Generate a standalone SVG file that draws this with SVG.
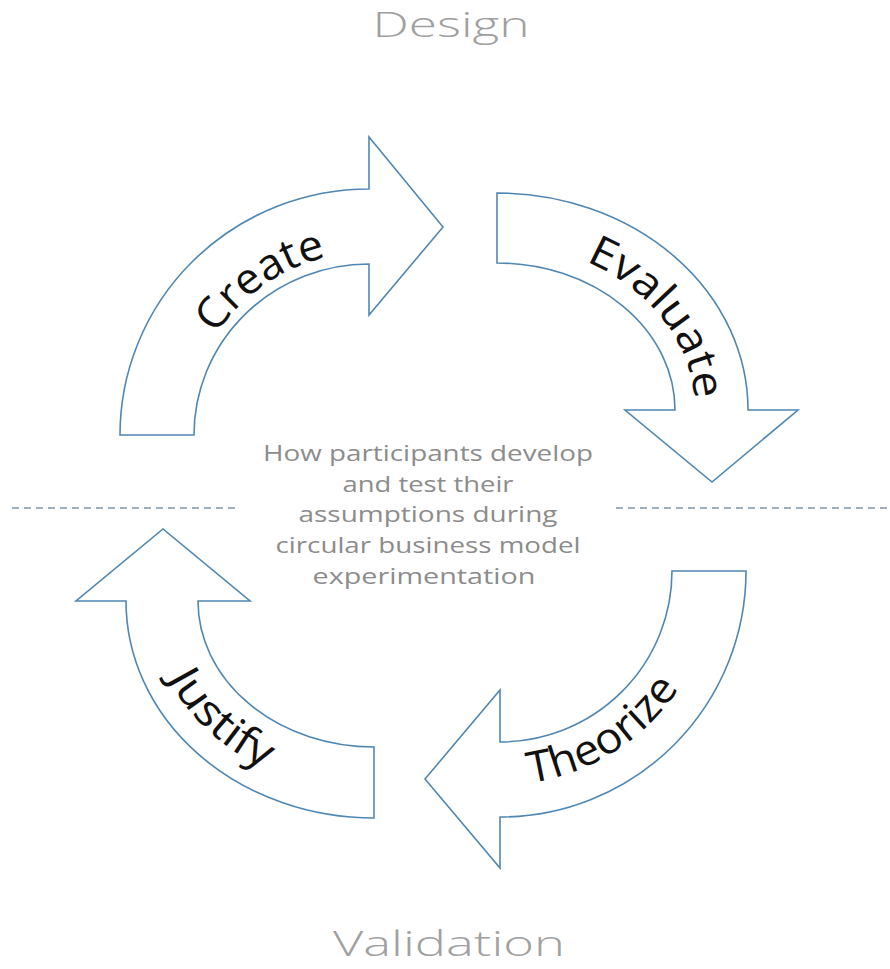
<svg xmlns="http://www.w3.org/2000/svg" width="890" height="969" viewBox="0 0 890 969">
  <style>
    .arrow { fill: #ffffff; stroke: #4f87b4; stroke-width: 1.6; stroke-linejoin: miter; }
    .lbl { font-family: "Open Sans", "DejaVu Sans", sans-serif; font-weight: 400; font-size: 43px; fill: #111111; }
    .phase { font-family: "Open Sans", "DejaVu Sans", sans-serif; font-weight: 300; font-size: 35px; fill: #a0a0a0; text-anchor: middle; }
    .center { font-family: "Open Sans", "DejaVu Sans", sans-serif; font-weight: 400; font-size: 22px; fill: #8c8c8c; text-anchor: middle; }
    .dash { stroke: #7d97ab; stroke-width: 1.4; stroke-dasharray: 7 5; fill: none; }
  </style>
  <defs>
    <path id="pCreate" d="M 186,435 A 183 183 0 0 1 552,435"/>
    <path id="pEvaluate" d="M 497,244 A 198 166 0 0 1 695,410"/>
    <path id="pTheorize" d="M 286,571 A 214 214 0 0 0 714,571"/>
    <path id="pJustify" d="M 149,601 A 225 192 0 0 0 374,793"/>
  </defs>
  <rect x="0" y="0" width="890" height="969" fill="#ffffff"/>

  <g id="connectors">
    <line class="dash" x1="12" y1="508" x2="240" y2="508"/>
    <line class="dash" x1="616" y1="508" x2="890" y2="508"/>
  </g>

  <g id="phase-design">
    <text class="phase" x="451" y="37" textLength="157" lengthAdjust="spacingAndGlyphs">Design</text>
  </g>
  <g id="phase-validation">
    <text class="phase" x="449" y="956" textLength="232" lengthAdjust="spacingAndGlyphs">Validation</text>
  </g>

  <g id="node-create">
    <path class="arrow" d="M 120,435 A 249 246 0 0 1 369,189 L 369,137 L 443,227 L 369,315 L 369,264 A 175 171 0 0 0 194,435 Z"/>
    <text class="lbl"><textPath href="#pCreate" startOffset="30.5%" text-anchor="middle" textLength="138" lengthAdjust="spacingAndGlyphs">Create</textPath></text>
  </g>

  <g id="node-evaluate">
    <path class="arrow" d="M 497,193 A 251 217 0 0 1 748,410 L 798,410 L 712,482 L 625,410 L 675,410 A 178 147 0 0 0 497,263 Z"/>
    <text class="lbl"><textPath href="#pEvaluate" startOffset="64%" text-anchor="middle" textLength="185" lengthAdjust="spacingAndGlyphs">Evaluate</textPath></text>
  </g>

  <g id="node-theorize">
    <path class="arrow" d="M 746,571 A 246 246 0 0 1 500,817 L 500,868 L 425,779 L 500,690 L 500,742 A 172 171 0 0 0 672,571 Z"/>
    <text class="lbl"><textPath href="#pTheorize" startOffset="68%" text-anchor="middle" textLength="182" lengthAdjust="spacingAndGlyphs">Theorize</textPath></text>
  </g>

  <g id="node-justify">
    <path class="arrow" d="M 374,818 A 248 217 0 0 1 126,601 L 76,601 L 163,529 L 250,601 L 198,601 A 176 146 0 0 0 374,747 Z"/>
    <text class="lbl"><textPath href="#pJustify" startOffset="45%" text-anchor="middle" textLength="135" lengthAdjust="spacingAndGlyphs">Justify</textPath></text>
  </g>

  <g id="center-text">
    <text class="center" x="428" y="461" textLength="330" lengthAdjust="spacingAndGlyphs">How participants develop</text>
    <text class="center" x="428" y="492" textLength="171" lengthAdjust="spacingAndGlyphs">and test their</text>
    <text class="center" x="428" y="522" textLength="259" lengthAdjust="spacingAndGlyphs">assumptions during</text>
    <text class="center" x="428" y="553" textLength="305" lengthAdjust="spacingAndGlyphs">circular business model</text>
    <text class="center" x="424" y="584" textLength="223" lengthAdjust="spacingAndGlyphs">experimentation</text>
  </g>
</svg>
